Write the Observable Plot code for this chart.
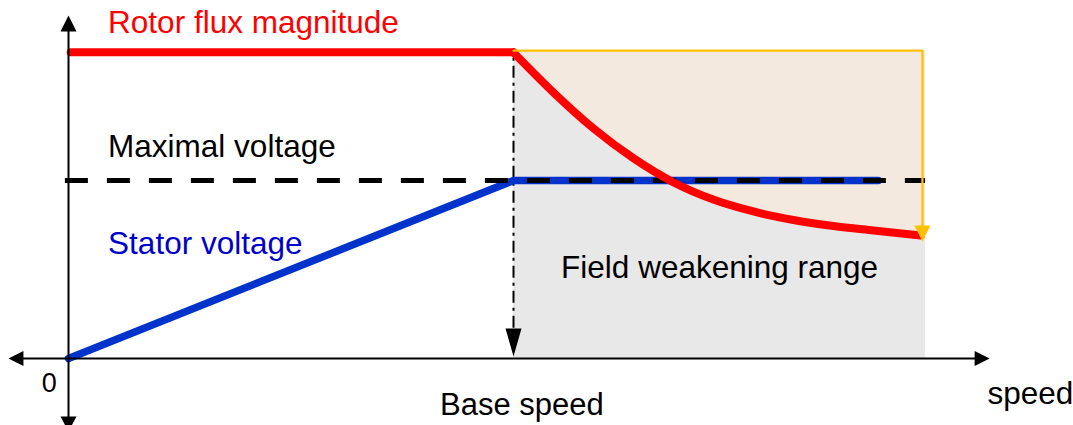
<!DOCTYPE html>
<html>
<head>
<meta charset="utf-8">
<script src="https://cdn.jsdelivr.net/npm/d3@7"></script>
<script src="https://cdn.jsdelivr.net/npm/@observablehq/plot@0.6"></script>
<style>
  html, body { margin: 0; padding: 0; background: #fff; }
  svg { display: block; }
</style>
</head>
<body>
<div id="chart"></div>
<script>
// ---- data (speed in per-unit of base speed, magnitudes in per-unit of max voltage) ----
const baseSpeed = 1;
const rangeEnd = 1.926;          // end of field weakening range
const fluxRated = 1.72;          // rotor flux magnitude below base speed
const fluxFlatSpeed = [0.005, 1];
const weakSpeed = [1, 1.09, 1.18, 1.27, 1.36, 1.449, 1.539, 1.629, 1.719, 1.809, 1.915];
const weakFlux  = [1.719, 1.494, 1.292, 1.124, 0.989, 0.893, 0.826, 0.778, 0.744, 0.719, 0.691];
const statorSpeed = [0, 1, 1.82];
const statorVolt  = [0, 1, 1];
const maxVoltage = 1;
const maxVoltageSpan = [-0.007, 1.926];
const orangeSpeed = [1, 1.919, 1.919];
const orangeLevel = [1.73, 1.73, 0.74];
const orangeTip = [1.919, 0.657];
const axisX = [-0.135, 2.07];
const axisY = [-0.41, 1.927];

const labelText  = ["Rotor flux magnitude", "Maximal voltage", "Stator voltage", "Field weakening range", "speed"];
const labelSpeed = [0.089, 0.089, 0.089, 1.107, 2.065];
const labelLevel = [1.826, 1.131, 0.588, 0.453, -0.253];
const labelColor = ["#ff0000", "#000000", "#0000cc", "#000000", "#000000"];
const baseLabel = {t: "Base speed", s: 1.019, v: -0.320};
const originLabel = {t: "0", s: -0.043, v: -0.189};

// ---- derived tables ----
const weak = weakSpeed.map((s, i) => ({s, f: weakFlux[i]}));
const weakFill = [...weak, {s: rangeEnd, f: weakFlux[weakFlux.length - 1]}];
const flat = fluxFlatSpeed.map(s => ({s, f: fluxRated}));
const stator = statorSpeed.map((s, i) => ({s, v: statorVolt[i]}));
const orange = orangeSpeed.map((s, i) => ({s, v: orangeLevel[i]}));
const labels = labelText.map((t, i) => ({t, s: labelSpeed[i], v: labelLevel[i], c: labelColor[i]}));

function tri(w, h) {
  return {
    draw(ctx) {
      ctx.moveTo(0, 0);
      ctx.lineTo(-w / 2, -h);
      ctx.lineTo(w / 2, -h);
      ctx.closePath();
    }
  };
}

const font = "'Liberation Sans', Arial, sans-serif";

const chart = Plot.plot({
  width: 1073,
  height: 425,
  margin: 0,
  x: {domain: [0, 1], range: [68, 513], axis: null},
  y: {domain: [0, 1], range: [358, 180], axis: null},
  style: {fontFamily: font, background: "#fff", overflow: "visible"},
  marks: [
    // grey field weakening region below the flux curve
    Plot.areaY(weakFill, {x: "s", y1: 0, y2: "f", fill: "#e8e8e8", curve: "monotone-x"}),
    // beige region above the flux curve
    Plot.areaY(weakFill, {x: "s", y1: "f", y2: fluxRated + 0.01, fill: "#f3e9de", curve: "monotone-x"}),
    // base speed dash-dot marker
    Plot.ruleX([baseSpeed], {y1: 0.17, y2: fluxRated, stroke: "#000", strokeWidth: 2, strokeDasharray: "12,5,3,5"}),
    Plot.dot([[baseSpeed, 0.011]], {x: d => d[0], y: d => d[1], symbol: tri(16, 28), r: 1, fill: "#000", stroke: "none"}),
    // stator voltage
    Plot.line(stator, {x: "s", y: "v", stroke: "#0033cc", strokeWidth: 7.5}),
    // maximal voltage dashed
    Plot.ruleY([maxVoltage], {x1: maxVoltageSpan[0], x2: maxVoltageSpan[1], stroke: "#000", strokeWidth: 5, strokeDasharray: "23,19"}),
    // rotor flux
    Plot.line(flat, {x: "s", y: "f", stroke: "#ff0000", strokeWidth: 8}),
    Plot.line(weak, {x: "s", y: "f", stroke: "#ff0000", strokeWidth: 8, curve: "monotone-x"}),
    // orange bracket (on top)
    Plot.line(orange, {x: "s", y: "v", stroke: "#ffc000", strokeWidth: 2.2}),
    Plot.dot([orangeTip], {x: d => d[0], y: d => d[1], symbol: tri(16, 16), r: 1, fill: "#ffc000", stroke: "none"}),
    // axes
    Plot.ruleY([0], {x1: axisX[0] + 0.02, x2: axisX[1] - 0.02, stroke: "#000", strokeWidth: 2}),
    Plot.ruleX([0], {y1: axisY[0] + 0.05, y2: axisY[1] - 0.05, stroke: "#000", strokeWidth: 2}),
    Plot.dot([[0, axisY[1]]], {x: d => d[0], y: d => d[1], symbol: tri(16, 16), r: 1, fill: "#000", stroke: "none", rotate: 180}),
    Plot.dot([[0, axisY[0]]], {x: d => d[0], y: d => d[1], symbol: tri(16, 15), r: 1, fill: "#000", stroke: "none"}),
    Plot.dot([[axisX[0], 0]], {x: d => d[0], y: d => d[1], symbol: tri(15, 15), r: 1, fill: "#000", stroke: "none", rotate: 90}),
    Plot.dot([[axisX[1], 0]], {x: d => d[0], y: d => d[1], symbol: tri(15, 15), r: 1, fill: "#000", stroke: "none", rotate: -90}),
    // labels
    Plot.text(labels, {x: "s", y: "v", text: "t", fill: "c", textAnchor: "start", lineAnchor: "bottom", fontSize: 31.5}),
    Plot.text([baseLabel], {x: "s", y: "v", text: "t", textAnchor: "middle", lineAnchor: "bottom", fontSize: 31, fill: "#000"}),
    Plot.text([originLabel], {x: "s", y: "v", text: "t", textAnchor: "middle", lineAnchor: "bottom", fontSize: 27, fill: "#000"})
  ]
});

document.getElementById("chart").appendChild(chart);
</script>
</body>
</html>
